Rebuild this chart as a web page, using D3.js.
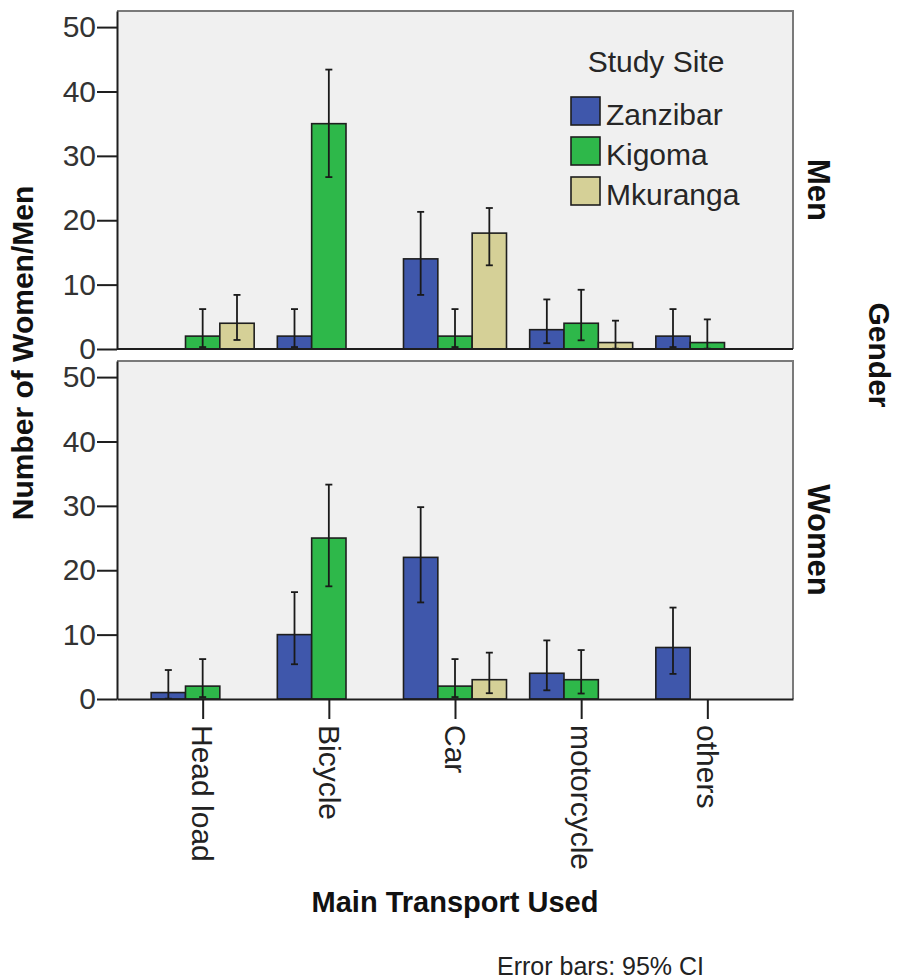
<!DOCTYPE html>
<html>
<head>
<meta charset="utf-8">
<script src="https://cdn.jsdelivr.net/npm/d3@7"></script>
<style>
  body { margin: 0; background: #fff; }
  svg text { font-family: "Liberation Sans", Arial, sans-serif; }
</style>
</head>
<body>
<svg id="chart" width="897" height="979"></svg>
<script>
// ---- data ----
const categories = ["Head load", "Bicycle", "Car", "motorcycle", "others"];
const sites = ["Zanzibar", "Kigoma", "Mkuranga"];
const siteColors = ["#3f57ab", "#2eb84a", "#d5d097"];
const genders = ["Men", "Women"];
const yTicks = [0, 10, 20, 30, 40, 50];

// counts per category (null = no respondents in that group)
const menZanzibar = [null, 2, 14, 3, 2];
const menKigoma   = [2, 35, 2, 4, 1];
const menMkuranga = [4, null, 18, 1, null];
const womenZanzibar = [1, 10, 22, 4, 8];
const womenKigoma   = [2, 25, 2, 3, null];
const womenMkuranga = [null, null, 3, null, null];

// 95% confidence intervals [low, high]
const menZanzibarCI = [null, [0.3, 6.2], [8.4, 21.3], [0.9, 7.7], [0.3, 6.2]];
const menKigomaCI   = [[0.3, 6.2], [26.7, 43.4], [0.3, 6.2], [1.35, 9.2], [0.05, 4.6]];
const menMkurangaCI = [[1.4, 8.4], null, [13.0, 21.9], [0.05, 4.4], null];
const womenZanzibarCI = [[0.05, 4.5], [5.4, 16.6], [15.0, 29.8], [1.35, 9.1], [3.9, 14.2]];
const womenKigomaCI   = [[0.3, 6.2], [17.5, 33.3], [0.3, 6.2], [0.85, 7.6], null];
const womenMkurangaCI = [null, null, [0.9, 7.2], null, null];

const panelValues = {
  Men:   [menZanzibar, menKigoma, menMkuranga],
  Women: [womenZanzibar, womenKigoma, womenMkuranga]
};
const panelCI = {
  Men:   [menZanzibarCI, menKigomaCI, menMkurangaCI],
  Women: [womenZanzibarCI, womenKigomaCI, womenMkurangaCI]
};

// ---- layout ----
const svg = d3.select("#chart");
const left = 117, right = 793;
const panels = { Men: { top: 11, bottom: 349 }, Women: { top: 361, bottom: 699 } };
const yMax = 52.5;
const textColor = "#262626";

const x = d3.scalePoint().domain(categories).range([left, right]).padding(0.679);
const inner = d3.scaleBand().domain(sites).range([-51.5, 51.5]).padding(0);
const color = d3.scaleOrdinal().domain(sites).range(siteColors);

genders.forEach(g => {
  const p = panels[g];
  const y = d3.scaleLinear().domain([0, yMax]).range([p.bottom, p.top]);
  const gp = svg.append("g");

  // panel background + top/right frame
  gp.append("rect").attr("x", left).attr("y", p.top)
    .attr("width", right - left).attr("height", p.bottom - p.top)
    .attr("fill", "#f0f0f0");
  gp.append("path")
    .attr("d", `M${left},${p.top}H${right}V${p.bottom}`)
    .attr("fill", "none").attr("stroke", "#7a7a7a").attr("stroke-width", 2);

  // bars
  const rows = [];
  sites.forEach((s, si) => {
    categories.forEach((c, ci) => {
      const v = panelValues[g][si][ci];
      if (v != null) rows.push({ site: s, cat: c, value: v, ci: panelCI[g][si][ci] });
    });
  });

  gp.selectAll("rect.bar").data(rows).join("rect")
    .attr("class", "bar")
    .attr("x", d => x(d.cat) + inner(d.site))
    .attr("y", d => y(d.value))
    .attr("width", inner.bandwidth())
    .attr("height", d => y(0) - y(d.value))
    .attr("fill", d => color(d.site))
    .attr("stroke", "#1e1e1e").attr("stroke-width", 1.6);

  // error bars
  const eb = gp.selectAll("g.err").data(rows.filter(d => d.ci)).join("g")
    .attr("class", "err")
    .attr("transform", d => `translate(${x(d.cat) + inner(d.site) + inner.bandwidth() / 2},0)`)
    .attr("stroke", "#1a1a1a").attr("stroke-width", 1.8);
  eb.append("line").attr("y1", d => y(d.ci[0])).attr("y2", d => y(d.ci[1]));
  eb.append("line").attr("x1", -3.5).attr("x2", 3.5)
    .attr("y1", d => y(d.ci[1])).attr("y2", d => y(d.ci[1]));
  eb.append("line").attr("x1", -3.5).attr("x2", 3.5)
    .attr("y1", d => y(d.ci[0])).attr("y2", d => y(d.ci[0]));

  // y axis
  const ya = gp.append("g").attr("transform", `translate(${left},0)`)
    .call(d3.axisLeft(y).tickValues(yTicks).tickSize(20).tickSizeOuter(0).tickPadding(1));
  ya.select(".domain").attr("stroke", "#1e1e1e").attr("stroke-width", 2);
  ya.selectAll(".tick line").attr("stroke", "#1e1e1e").attr("stroke-width", 2);
  ya.selectAll(".tick text").attr("font-size", 30).attr("fill", "#333").attr("font-family", null);

  // x axis (ticks and labels only under the lower panel)
  if (g === "Women") {
    const xa = gp.append("g").attr("transform", `translate(0,${p.bottom})`)
      .call(d3.axisBottom(x).tickSize(20).tickSizeOuter(0));
    xa.select(".domain").attr("stroke", "#1e1e1e").attr("stroke-width", 2);
    xa.selectAll(".tick line").attr("stroke", "#1e1e1e").attr("stroke-width", 2);
    xa.selectAll(".tick text")
      .attr("font-size", 30).attr("fill", "#222").attr("font-family", null)
      .attr("transform", "rotate(90)")
      .attr("x", 26).attr("y", 0).attr("dy", "0.36em")
      .style("text-anchor", "start");
  } else {
    gp.append("line").attr("x1", left).attr("x2", right)
      .attr("y1", p.bottom).attr("y2", p.bottom)
      .attr("stroke", "#1e1e1e").attr("stroke-width", 2);
  }

  // panel strip label
  gp.append("text")
    .attr("transform", `translate(808,${(p.top + p.bottom) / 2 + 10}) rotate(90)`)
    .attr("text-anchor", "middle")
    .attr("font-size", 31).attr("font-weight", "bold").attr("fill", "#111")
    .text(g);
});

// ---- legend ----
const lg = svg.append("g");
lg.append("text").attr("x", 656).attr("y", 72)
  .attr("text-anchor", "middle").attr("font-size", 30).attr("fill", textColor)
  .text("Study Site");
const li = lg.selectAll("g.item").data(sites).join("g")
  .attr("class", "item")
  .attr("transform", (d, i) => `translate(571,${97 + i * 40})`);
li.append("rect").attr("width", 29).attr("height", 28)
  .attr("fill", d => color(d)).attr("stroke", "#1e1e1e").attr("stroke-width", 1.6);
li.append("text").attr("x", 35).attr("y", 28)
  .attr("font-size", 30).attr("fill", textColor).text(d => d);

// ---- titles ----
svg.append("text")
  .attr("transform", "translate(33,353) rotate(-90)")
  .attr("text-anchor", "middle").attr("font-size", 30).attr("font-weight", "bold").attr("fill", "#111")
  .text("Number of Women/Men");
svg.append("text")
  .attr("transform", "translate(869,355) rotate(90)")
  .attr("text-anchor", "middle").attr("font-size", 30).attr("font-weight", "bold").attr("fill", "#111")
  .text("Gender");
svg.append("text")
  .attr("x", 455).attr("y", 912)
  .attr("text-anchor", "middle").attr("font-size", 29).attr("font-weight", "bold").attr("fill", "#111")
  .text("Main Transport Used");
svg.append("text")
  .attr("x", 497).attr("y", 975)
  .attr("font-size", 25).attr("fill", "#222")
  .text("Error bars: 95% CI");
</script>
</body>
</html>
